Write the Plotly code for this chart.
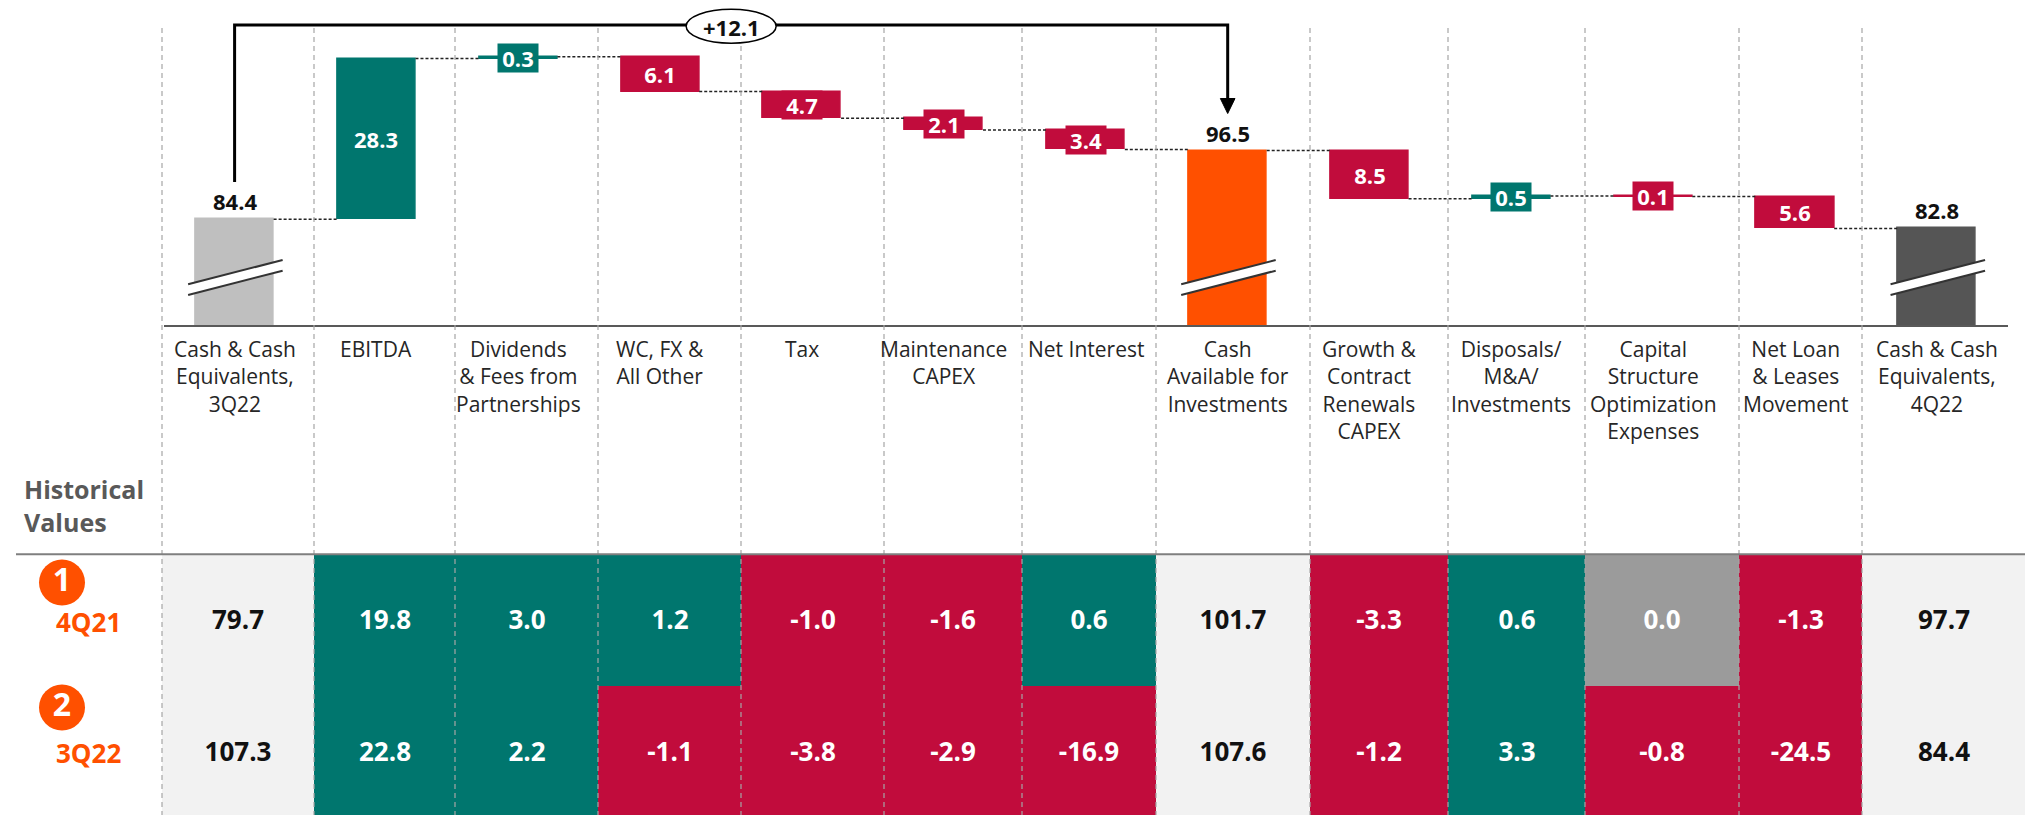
import plotly.graph_objects as go

# ---------------- data ----------------
categories = [
    "Cash & Cash<br>Equivalents,<br>3Q22",
    "EBITDA",
    "Dividends<br>& Fees from<br>Partnerships",
    "WC, FX &<br>All Other",
    "Tax",
    "Maintenance<br>CAPEX",
    "Net Interest",
    "Cash<br>Available for<br>Investments",
    "Growth &<br>Contract<br>Renewals<br>CAPEX",
    "Disposals/<br>M&A/<br>Investments",
    "Capital<br>Structure<br>Optimization<br>Expenses",
    "Net Loan<br>& Leases<br>Movement",
    "Cash & Cash<br>Equivalents,<br>4Q22",
]
measures = ["total", "relative", "relative", "relative", "relative", "relative",
            "relative", "total", "relative", "relative", "relative", "relative", "total"]
values = [84.4, 28.3, 0.3, -6.1, -4.7, -2.1, -3.4, 96.5, -8.5, 0.5, -0.1, -5.6, 82.8]

row_numbers = ["1", "2"]
row_labels = ["4Q21", "3Q22"]
hist_4q21 = [79.7, 19.8, 3.0, 1.2, -1.0, -1.6, 0.6, 101.7, -3.3, 0.6, 0.0, -1.3, 97.7]
hist_3q22 = [107.3, 22.8, 2.2, -1.1, -3.8, -2.9, -16.9, 107.6, -1.2, 3.3, -0.8, -24.5, 84.4]
side_title = "Historical<br>Values"

# ---------------- styles / layout constants ----------------
W, H = 2025, 815
FONT = "Open Sans"
TEAL = "#00766E"
RED = "#C10C3C"
ORANGE = "#FF5000"
ZERO_GREY = "#9B9B9B"
TOTAL_BG = "#F2F2F2"
TOTAL_COLORS = ["#BFBFBF", ORANGE, "#555555"]

X_L, STEP = 163.66, 141.87          # pixel of x=-0.5 and pixel spacing of categories
N = len(values)
BW = 0.55                           # bar width (category units)
Y_AXIS_PX = 325                     # pixel row of the waterfall baseline
Y_RANGE = [65.79, 123.01]
COL_EDGES = [162, 314, 455, 598, 741, 884, 1022, 1156, 1310, 1448, 1585, 1739, 1862, 2025]
ROW_EDGES = [554, 686, 817]


def cx(i):
    return X_L + (i + 0.5) * STEP


# ---------------- waterfall geometry from data ----------------
bases, heights, colors, levels = [], [], [], []
running = 0.0
ti = 0
for m, v in zip(measures, values):
    if m == "total":
        bases.append(0.0)
        heights.append(v)
        colors.append(TOTAL_COLORS[ti])
        ti += 1
        running = v
    else:
        bases.append(running)
        heights.append(v)
        colors.append(TEAL if v > 0 else RED)
        running += v
    levels.append(running)

fig = go.Figure()

fig.add_trace(go.Bar(
    x=list(range(N)), y=heights, base=bases, width=BW,
    marker=dict(color=colors, line=dict(color=colors, width=1.5)),
    hoverinfo="skip", showlegend=False,
))

cx_line, cy_line = [], []
for i in range(N - 1):
    cx_line += [i + BW / 2, i + 1 - BW / 2, None]
    cy_line += [levels[i], levels[i], None]
fig.add_trace(go.Scatter(
    x=cx_line, y=cy_line, mode="lines",
    line=dict(color="#222222", width=1.5, dash="3px,2px"),
    hoverinfo="skip", showlegend=False,
))

annotations = []
for i, (m, v) in enumerate(zip(measures, values)):
    txt = f"{abs(v):.1f}"
    if m == "relative":
        annotations.append(dict(
            x=i, y=bases[i] + heights[i] / 2, xref="x", yref="y",
            text=f"<b>{txt}</b>", showarrow=False,
            font=dict(family=FONT, size=22, color="white"),
            bgcolor=colors[i], borderpad=0,
            width=40 if len(txt) <= 3 else 54, height=28,
        ))
    else:
        annotations.append(dict(
            x=i, y=v, xref="x", yref="y", yshift=18,
            text=f"<b>{txt}</b>", showarrow=False,
            font=dict(family=FONT, size=22, color="#111111"),
        ))

# category labels
for i, c in enumerate(categories):
    annotations.append(dict(
        x=i, y=1 - 333 / H, xref="x", yref="paper", xanchor="center", yanchor="top",
        text=c, showarrow=False, align="center",
        font=dict(family=FONT, size=21, color="#262626"),
    ))

# ---------------- table (heatmap on a pixel axis) ----------------
is_total = [m == "total" for m in measures]
z_col, t_col, z_tot, t_tot = [], [], [], []
for row in (hist_4q21, hist_3q22):
    zc, tc, zt, tt = [], [], [], []
    for v, tot in zip(row, is_total):
        s = f"{v:.1f}"
        if tot:
            zc.append(None); tc.append("")
            zt.append(0); tt.append(s)
        else:
            zc.append(1 if v > 0 else (2 if v < 0 else 3)); tc.append(s)
            zt.append(None); tt.append("")
    z_col.append(zc); t_col.append(tc); z_tot.append(zt); t_tot.append(tt)

fig.add_trace(go.Heatmap(
    x=COL_EDGES, y=ROW_EDGES, z=z_col, text=t_col, texttemplate="%{text}",
    textfont=dict(family=FONT, size=26, color="white", weight="bold"),
    colorscale=[[0, TEAL], [0.5, RED], [1, ZERO_GREY]], zmin=1, zmax=3,
    showscale=False, hoverinfo="skip", xaxis="x2", yaxis="y2",
))
fig.add_trace(go.Heatmap(
    x=COL_EDGES, y=ROW_EDGES, z=z_tot, text=t_tot, texttemplate="%{text}",
    textfont=dict(family=FONT, size=26, color="#111111", weight="bold"),
    colorscale=[[0, TOTAL_BG], [1, TOTAL_BG]], zmin=0, zmax=1,
    showscale=False, hoverinfo="skip", xaxis="x2", yaxis="y2",
))

# row markers
fig.add_trace(go.Scatter(
    x=[62, 62], y=[582.5, 707.5], mode="markers+text", text=row_numbers,
    textposition="middle center",
    textfont=dict(family=FONT, size=32, color="white", weight="bold"),
    marker=dict(size=46, color=ORANGE), hoverinfo="skip", showlegend=False,
    xaxis="x2", yaxis="y2",
))
for lab, yy in zip(row_labels, [622, 752.5]):
    annotations.append(dict(
        x=88, y=yy, xref="x2", yref="y2", text=f"<b>{lab}</b>", showarrow=False,
        font=dict(family=FONT, size=26, color=ORANGE),
    ))
annotations.append(dict(
    x=22, y=505, xref="x2", yref="y2", xanchor="left", yanchor="middle", align="left",
    text=f"<b>{side_title}</b>", showarrow=False,
    font=dict(family=FONT, size=25, color="#595959"),
))

# ---------------- shapes ----------------
shapes = []
for xe in COL_EDGES[:-1]:
    shapes.append(dict(type="line", xref="x2", yref="y2", x0=xe, x1=xe, y0=28, y1=H,
                       line=dict(color="#A6A6A6", width=1.2, dash="5px,4px")))
shapes.append(dict(type="line", xref="x2", yref="y2", x0=16, x1=W, y0=554.3, y1=554.3,
                   line=dict(color="#7F7F7F", width=2)))

# axis breaks on total bars
for i, tot in enumerate(is_total):
    if not tot:
        continue
    L, R = cx(i) - 46.5, cx(i) + 48
    shapes.append(dict(type="path", xref="x2", yref="y2",
                       path=f"M {L},{284.3} L {R},{260} L {R},{270.7} L {L},{295} Z",
                       fillcolor="white", line=dict(width=0)))
    for dy in (0, 10.7):
        shapes.append(dict(type="line", xref="x2", yref="y2", x0=L, y0=284.3 + dy,
                           x1=R, y1=260 + dy, line=dict(color="#333333", width=2)))

# bracket from first total to middle total
total_idx = [k for k, m in enumerate(measures) if m == "total"]
i0, i1 = total_idx[0], total_idx[1]
xa, xb = cx(i0), cx(i1)
shapes.append(dict(type="path", xref="x2", yref="y2",
                   path=f"M {xa},182 L {xa},25 L {xb},25 L {xb},100",
                   line=dict(color="black", width=3)))
shapes.append(dict(type="path", xref="x2", yref="y2",
                   path=f"M {xb-7.3},98.5 L {xb+7.3},98.5 L {xb},113.5 Z",
                   fillcolor="black", line=dict(color="black", width=1)))
xm = (xa + xb) / 2
shapes.append(dict(type="circle", xref="x2", yref="y2", x0=xm - 45, x1=xm + 45,
                   y0=9.3, y1=43.3, fillcolor="white", line=dict(color="black", width=1.5)))
change = values[i1] - values[i0]
annotations.append(dict(
    x=xm, y=26.5, xref="x2", yref="y2", text=f"<b>{change:+.1f}</b>", showarrow=False,
    font=dict(family=FONT, size=22, color="#111111"),
))

fig.update_layout(
    width=W, height=H,
    margin=dict(l=0, r=0, t=0, b=0, pad=0),
    paper_bgcolor="white", plot_bgcolor="rgba(0,0,0,0)",
    font=dict(family=FONT),
    showlegend=False, bargap=0,
    xaxis=dict(domain=[X_L / W, (X_L + N * STEP) / W], range=[-0.5, N - 0.5],
               showgrid=False, zeroline=False, showticklabels=False, ticks="",
               showline=True, linecolor="#595959", linewidth=2, fixedrange=True),
    yaxis=dict(domain=[1 - Y_AXIS_PX / H, 1], range=Y_RANGE, showgrid=False,
               zeroline=False, showticklabels=False, ticks="", showline=False),
    xaxis2=dict(domain=[0, 1], range=[0, W], anchor="y2", visible=False),
    yaxis2=dict(domain=[0, 1], range=[H, 0], anchor="x2", visible=False),
    shapes=shapes,
    annotations=annotations,
)

fig.write_html(
    "out.html",
    config={"displayModeBar": False},
    post_script="document.body.style.margin='0px';document.body.style.overflow='hidden';",
)
